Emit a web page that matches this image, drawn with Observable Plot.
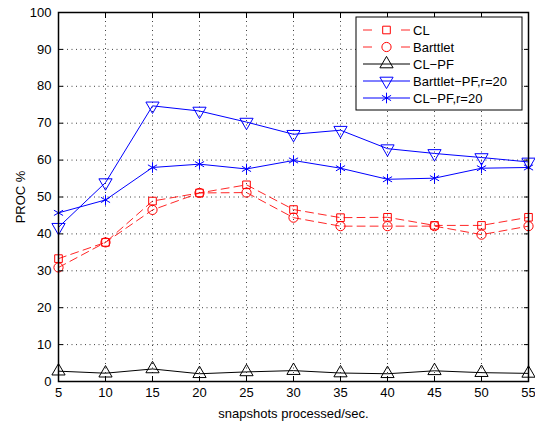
<!DOCTYPE html>
<html>
<head>
<meta charset="utf-8">
<script src="https://cdn.jsdelivr.net/npm/d3@7"></script>
<script src="https://cdn.jsdelivr.net/npm/@observablehq/plot@0.6"></script>
<style>
  html, body { margin: 0; padding: 0; background: #fff; }
  #chart { width: 535px; height: 421px; }
</style>
</head>
<body>
<div id="chart"></div>
<script>
const xs = [5, 10, 15, 20, 25, 30, 35, 40, 45, 50, 55];
const yTicks = [0, 10, 20, 30, 40, 50, 60, 70, 80, 90, 100];
const cl          = [33.3, 37.7, 48.9, 51.1, 53.3, 46.6, 44.4, 44.5, 42.3, 42.3, 44.5];
const barttlet    = [30.9, 37.7, 46.5, 51.1, 51.2, 44.4, 42.1, 42.1, 42.1, 39.8, 42.1];
const clPf        = [2.8, 2.25, 3.4, 2.1, 2.6, 2.95, 2.3, 2.1, 2.9, 2.4, 2.2];
const barttletPf  = [41.8, 53.9, 74.7, 73.3, 70.3, 67.0, 68.1, 63.1, 61.8, 60.7, 59.5];
const clPfR20     = [45.7, 49.2, 58.0, 58.9, 57.6, 59.9, 57.8, 54.8, 55.1, 57.8, 58.0];
const seriesNames = ["CL", "Barttlet", "CL\u2212PF", "Barttlet\u2212PF,r=20", "CL\u2212PF,r=20"];

const styles = [
  {stroke: "#ff0000", dash: "8,5", symbol: "square", rotate: 0, r: 4.3},
  {stroke: "#ff0000", dash: "8,5", symbol: "circle", rotate: 0, r: 4.6},
  {stroke: "#000000", dash: null, symbol: "triangle", rotate: 0, r: 4.9},
  {stroke: "#0000ff", dash: null, symbol: "triangle", rotate: 180, r: 4.9},
  {stroke: "#0000ff", dash: null, symbol: "asterisk", rotate: 0, r: 5.0}
];
const allSeries = [cl, barttlet, clPf, barttletPf, clPfR20];
const rows = allSeries.map((vals) => xs.map((x, i) => ({x, y: vals[i]})));

const marks = [
  Plot.gridX(xs, {stroke: "#000", strokeOpacity: 0.75, strokeDasharray: "1,3.5"}),
  Plot.gridY(yTicks, {stroke: "#000", strokeOpacity: 0.75, strokeDasharray: "1,3.5"}),
];
rows.forEach((d, k) => {
  const s = styles[k];
  marks.push(Plot.line(d, {x: "x", y: "y", stroke: s.stroke, strokeWidth: 1, strokeDasharray: s.dash || undefined, strokeOpacity: s.dash ? 0.85 : 1}));
  marks.push(Plot.dot(d, {x: "x", y: "y", stroke: s.stroke, fill: "none", symbol: s.symbol, r: s.r, rotate: s.rotate, strokeWidth: 1}));
});
marks.push(
  Plot.axisX({ticks: xs, tickSize: -5, tickPadding: 11, fontSize: 13, label: "snapshots processed/sec.", labelAnchor: "center", labelOffset: 36, labelArrow: "none"}),
  Plot.axisX({anchor: "top", ticks: xs, tickSize: -5, tickFormat: () => "", label: null}),
  Plot.axisY({ticks: yTicks, tickSize: -5, tickPadding: 12, fontSize: 13, label: "PROC %", labelAnchor: "center", labelOffset: 43, labelArrow: "none"}),
  Plot.axisY({anchor: "right", ticks: yTicks, tickSize: -5, tickFormat: () => "", label: null}),
  Plot.frame({stroke: "#000", strokeWidth: 1.5})
);

const plot = Plot.plot({
  width: 535,
  height: 421,
  marginLeft: 58,
  marginRight: 7,
  marginTop: 12,
  marginBottom: 40,
  style: {fontFamily: "'Liberation Sans', Arial, Helvetica, sans-serif", fontSize: "13px", color: "#000", background: "#fff"},
  x: {domain: [5, 55]},
  y: {domain: [0, 100]},
  marks
});
document.getElementById("chart").appendChild(plot);

// Legend (MATLAB-style boxed legend, upper right)
const svg = d3.select(plot);
const g = svg.append("g").attr("class", "legend").attr("text-anchor", "start");
const box = {x: 356, y: 17, w: 166, h: 93};
g.append("rect").attr("x", box.x).attr("y", box.y).attr("width", box.w).attr("height", box.h)
  .attr("fill", "#fff").attr("stroke", "#000").attr("stroke-width", 1);
const symMap = {square: d3.symbolSquare, circle: d3.symbolCircle, triangle: d3.symbolTriangle, asterisk: d3.symbolAsterisk};
seriesNames.forEach((name, k) => {
  const s = styles[k];
  const cy = box.y + 13 + k * 17;
  if (s.dash) {
    g.append("line").attr("x1", 363).attr("x2", 372).attr("y1", cy).attr("y2", cy).attr("stroke", s.stroke).attr("stroke-opacity", 0.85);
    g.append("line").attr("x1", 401).attr("x2", 410).attr("y1", cy).attr("y2", cy).attr("stroke", s.stroke).attr("stroke-opacity", 0.85);
  } else {
    g.append("line").attr("x1", 363).attr("x2", 410).attr("y1", cy).attr("y2", cy).attr("stroke", s.stroke);
  }
  g.append("path").attr("d", d3.symbol(symMap[s.symbol], Math.PI * s.r * s.r)())
    .attr("transform", `translate(386.5,${cy}) rotate(${s.rotate})`)
    .attr("fill", "none").attr("stroke", s.stroke);
  g.append("text").attr("x", 413).attr("y", cy).attr("dy", "0.35em")
    .attr("text-anchor", "start").attr("font-size", 13).attr("fill", "#000").text(name);
});
</script>
</body>
</html>
